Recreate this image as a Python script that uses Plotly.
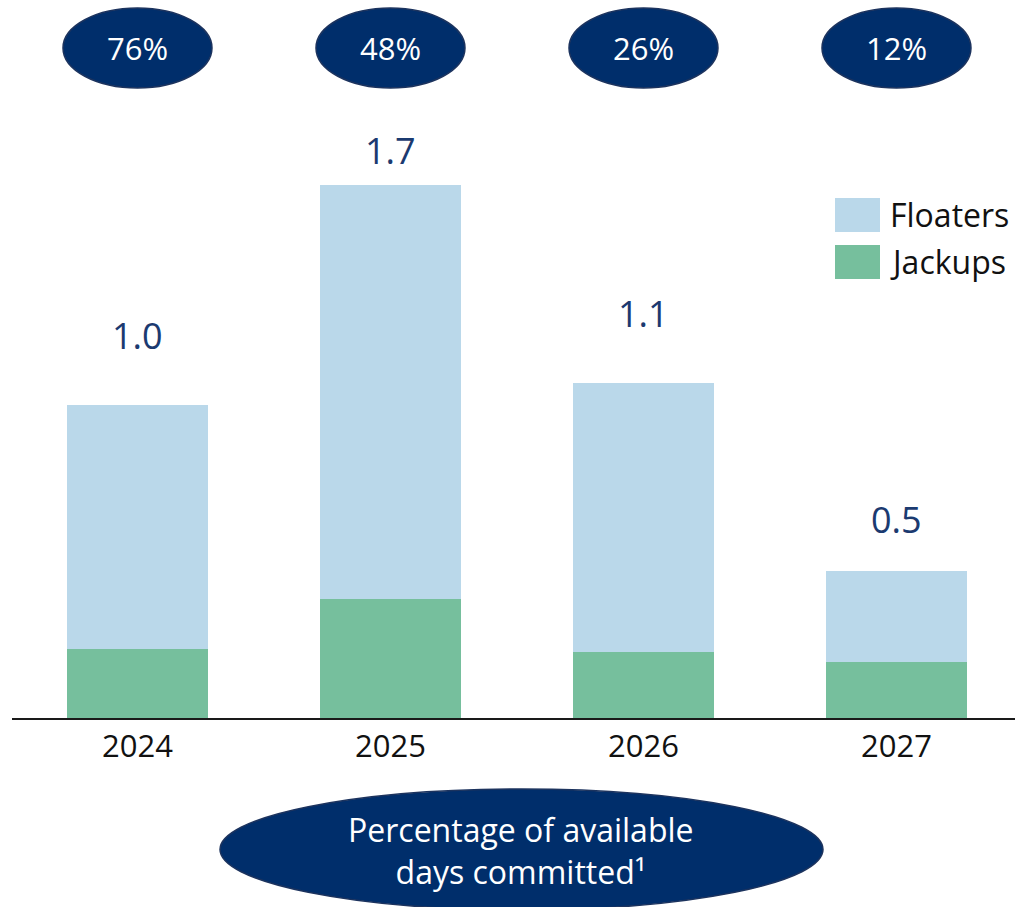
import plotly.graph_objects as go

# ---- data ----
years = ["2024", "2025", "2026", "2027"]
floaters = [0.78, 1.32, 0.86, 0.29]
jackups = [0.22, 0.38, 0.21, 0.18]
committed = [76, 48, 26, 12]
series_names = ["Floaters", "Jackups"]

# ---- styles ----
C_FLOAT = "#BAD8EA"
C_JACK = "#76BF9D"
NAVY = "#002E6B"
NAVY_LINE = "#1C335E"
LABEL_C = "#1B3A70"
FONT = "Open Sans"

W, H = 1015, 907
ML, MR, MT, MB = 12, 0, 20, 189
PX_PER_UNIT = 313.5
plot_w = W - ML - MR
plot_h = H - MT - MB
x0 = -0.496
x1 = x0 + plot_w / 253.0
y_max = plot_h / PX_PER_UNIT
label_shift = [69, 35, 69, 51]

fig = go.Figure()
fig.add_trace(go.Bar(x=years, y=jackups, name=series_names[1],
                     marker=dict(color=C_JACK, line=dict(width=0)), width=0.557))
fig.add_trace(go.Bar(x=years, y=floaters, name=series_names[0],
                     marker=dict(color=C_FLOAT, line=dict(width=0)), width=0.557))

annotations = []
shapes = []

def px_to_paper_y(p):
    return (H - MB - p) / plot_h

def px_to_paper_x(p):
    return (p - ML) / plot_w

def cat_to_paper_x(i):
    return (i - x0) / (x1 - x0)

# total labels
for i, yr in enumerate(years):
    tot = floaters[i] + jackups[i]
    annotations.append(dict(x=i, y=tot, xref="x", yref="y", text=f"{tot:.1f}",
                            showarrow=False, xanchor="center", yanchor="middle",
                            yshift=label_shift[i],
                            font=dict(family=FONT, size=36, color=LABEL_C)))

# top ellipses with committed percentages
half_w = 74.5 / 253.0
for i, pct in enumerate(committed):
    cx = cat_to_paper_x(i)
    hw = half_w / (x1 - x0)
    shapes.append(dict(type="circle", xref="paper", yref="paper",
                       x0=cx - hw, x1=cx + hw,
                       y0=px_to_paper_y(88), y1=px_to_paper_y(8),
                       fillcolor=NAVY, line=dict(color=NAVY_LINE, width=1.5),
                       layer="above"))
    annotations.append(dict(x=cx, y=px_to_paper_y(48), xref="paper", yref="paper",
                            text=f"{pct}%", showarrow=False, xanchor="center", yanchor="middle",
                            font=dict(family=FONT, size=31, color="white")))

# bottom ellipse
shapes.append(dict(type="circle", xref="paper", yref="paper",
                   x0=px_to_paper_x(220), x1=px_to_paper_x(823),
                   y0=px_to_paper_y(910), y1=px_to_paper_y(789),
                   fillcolor=NAVY, line=dict(color=NAVY_LINE, width=1.5), layer="above"))
annotations.append(dict(x=px_to_paper_x(521), y=px_to_paper_y(850), xref="paper", yref="paper",
                        text="Percentage of available<br>days committed¹",
                        showarrow=False, xanchor="center", yanchor="middle", align="center",
                        font=dict(family=FONT, size=32, color="white")))

# legend (manual)
for name, col, ytop in [(series_names[0], C_FLOAT, 198), (series_names[1], C_JACK, 245)]:
    shapes.append(dict(type="rect", xref="paper", yref="paper",
                       x0=px_to_paper_x(835), x1=px_to_paper_x(880),
                       y0=px_to_paper_y(ytop + 34), y1=px_to_paper_y(ytop),
                       fillcolor=col, line=dict(width=0)))
    annotations.append(dict(x=px_to_paper_x(888), y=px_to_paper_y(ytop + 16), xref="paper", yref="paper",
                            text=name, showarrow=False, xanchor="left", yanchor="middle",
                            font=dict(family=FONT, size=32, color="#111111")))

fig.update_layout(
    barmode="stack",
    width=W, height=H,
    margin=dict(l=ML, r=MR, t=MT, b=MB, pad=0),
    plot_bgcolor="white", paper_bgcolor="white",
    showlegend=False,
    shapes=shapes,
    annotations=annotations,
    font=dict(family=FONT, size=31, color="#111111"),
    xaxis=dict(type="category", range=[x0, x1], showgrid=False, ticks="",
               showline=True, linecolor="#1a1a1a", linewidth=2,
               tickfont=dict(family=FONT, size=31, color="#111111")),
    yaxis=dict(range=[0, y_max], visible=False, showgrid=False, zeroline=False),
)

fig.write_html("out.html", config={"displayModeBar": False},
               post_script="document.body.style.margin='0';document.body.style.overflow='hidden';")
